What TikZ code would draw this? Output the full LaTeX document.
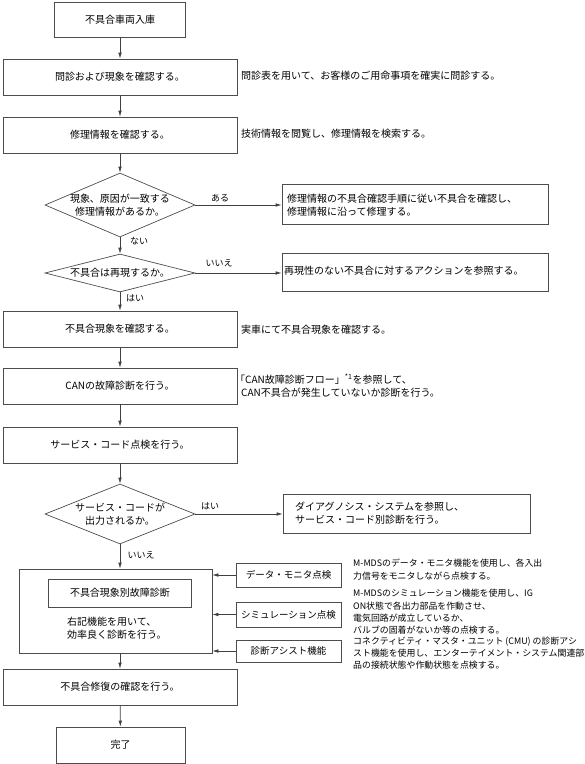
\documentclass[tikz,border=0pt]{standalone}
\usepackage{fontspec}
\setmainfont{Noto Sans CJK JP}
\usetikzlibrary{shapes.geometric,arrows.meta}
\begin{document}
\begin{tikzpicture}[x=1pt,y=-1pt,
  lc/.style={draw=black!70, line width=0.7pt},
  box/.style={lc, rectangle, inner sep=0pt, align=center, font=\fontsize{10}{13}\selectfont},
  mainbox/.style={box, minimum width=234pt, minimum height=36pt},
  frame/.style={lc, rectangle, inner sep=0pt},
  dia/.style={lc, diamond, inner sep=0pt},
  txt/.style={inner sep=0pt, align=center, font=\fontsize{10}{13}\selectfont},
  arr/.style={draw=black!75, line width=0.7pt, -{Latex[length=6pt,width=3.6pt]}},
  side/.style={anchor=west, inner sep=0pt, align=left, font=\fontsize{10}{13}\selectfont},
  small/.style={anchor=west, inner sep=0pt, align=left, font=\fontsize{8.9}{12.3}\selectfont},
  sbox/.style={box, minimum width=105pt, font=\fontsize{9.5}{11}\selectfont},
  lab/.style={inner sep=0pt, font=\fontsize{9}{11}\selectfont},
]
\useasboundingbox (0,0) rectangle (585,764);

% main column
\node[box, minimum width=131pt, minimum height=35pt] (b1) at (120,19.5) {不具合車両入庫};
\node[mainbox] (b2) at (120,77) {問診および現象を確認する。};
\node[mainbox] (b3) at (120,135) {修理情報を確認する。};
\node[dia, minimum width=150pt, minimum height=64pt] (d1) at (120,205) {};
\node[txt] (d1t) at (d1) {現象、原因が一致する\\修理情報があるか。};
\node[dia, minimum width=150pt, minimum height=38pt] (d2) at (120,273) {};
\node[txt] (d2t) at (d2) {不具合は再現するか。};
\node[mainbox] (b4) at (120,329) {不具合現象を確認する。};
\node[mainbox] (b5) at (120,386) {CANの故障診断を行う。};
\node[mainbox] (b6) at (120,445) {サービス・コード点検を行う。};
\node[dia, minimum width=150pt, minimum height=60pt] (d3) at (120,514) {};
\node[txt] (d3t) at (d3) {サービス・コードが\\出力されるか。};
\node[frame, minimum width=193pt, minimum height=84pt] (big) at (115.5,611) {};
\node[box, minimum width=143pt, minimum height=28pt] (inner) at (120,593) {不具合現象別故障診断};
\node[side] (innert) at (67,628.5) {右記機能を用いて、\\効率良く診断を行う。};
\node[mainbox] (b7) at (120,687) {不具合修復の確認を行う。};
\node[box, minimum width=129pt, minimum height=36pt] (b8) at (120.5,745) {完了};

% right boxes
\node[frame, minimum width=266pt, minimum height=40pt] (r1) at (415,204) {};
\node[side] (r1t) at (287,205.5) {修理情報の不具合確認手順に従い不具合を確認し、\\修理情報に沿って修理する。};
\node[frame, minimum width=266pt, minimum height=38pt] (r2) at (415,272) {};
\node[side] (r2t) at (284,271) {再現性のない不具合に対するアクションを参照する。};
\node[frame, minimum width=247pt, minimum height=39pt] (r3) at (406.5,513.5) {};
\node[side] (r3t) at (295,513.5) {ダイアグノシス・システムを参照し、\\サービス・コード別診断を行う。};

% side notes
\node[side] (s2) at (241,76) {問診表を用いて、お客様のご用命事項を確実に問診する。};
\node[side] (s3) at (241,134) {技術情報を閲覧し、修理情報を検索する。};
\node[side] (s4) at (241,330) {実車にて不具合現象を確認する。};
\node[side] (s5) at (241,385.5) {\hspace*{-6pt}「CAN故障診断フロー」\textsuperscript{*1}を参照して、\\CAN不具合が発生していないか診断を行う。};

% small function boxes
\node[sbox, minimum height=24pt] (sd) at (288.5,575) {データ・モニタ点検};
\node[sbox, minimum height=25pt] (ss) at (288.5,614.5) {シミュレーション点検};
\node[sbox, minimum height=22pt] (sc) at (288.5,651) {診断アシスト機能};
\node[small] (td) at (353,569.5) {M-MDSのデータ・モニタ機能を使用し、各入出\\力信号をモニタしながら点検する。};
\node[small] (ts) at (353,612) {M-MDSのシミュレーション機能を使用し、IG\\ON状態で各出力部品を作動させ、\\電気回路が成立しているか、\\バルブの固着がないか等の点検する。};
\node[small] (tc) at (353,653) {コネクティビティ・マスタ・ユニット (CMU) の診断アシ\\スト機能を使用し、エンターテイメント・システム関連部\\品の接続状態や作動状態を点検する。};

% labels
\node[lab] (la1) at (220,198) {ある};
\node[lab] (la2) at (139,241) {ない};
\node[lab] (la3) at (219,263) {いいえ};
\node[lab] (la4) at (135,298) {はい};
\node[lab] (la5) at (210,506) {はい};
\node[lab] (la6) at (141,555) {いいえ};

% connectors
\draw[arr] (b1) -- (b2);
\draw[arr] (b2) -- (b3);
\draw[arr] (b3) -- (d1);
\draw[arr] (d1) -- (d2);
\draw[arr] (d2) -- (b4);
\draw[arr] (b4) -- (b5);
\draw[arr] (b5) -- (b6);
\draw[arr] (b6) -- (d3);
\draw[arr] (d3.south) -- (d3.south |- big.north);
\draw[arr] (b7.north |- big.south) -- (b7.north);
\draw[arr] (b7) -- (b8);
\draw[arr] (d1.east) -- (d1.east -| r1.west);
\draw[arr] (d2.east) -- (d2.east -| r2.west);
\draw[arr] (d3.east) -- (d3.east -| r3.west);
\draw[arr] (sd.west) -- (sd.west -| big.east);
\draw[arr] (ss.west) -- (ss.west -| big.east);
\draw[arr] (sc.west) -- (sc.west -| big.east);
\end{tikzpicture}
\end{document}
